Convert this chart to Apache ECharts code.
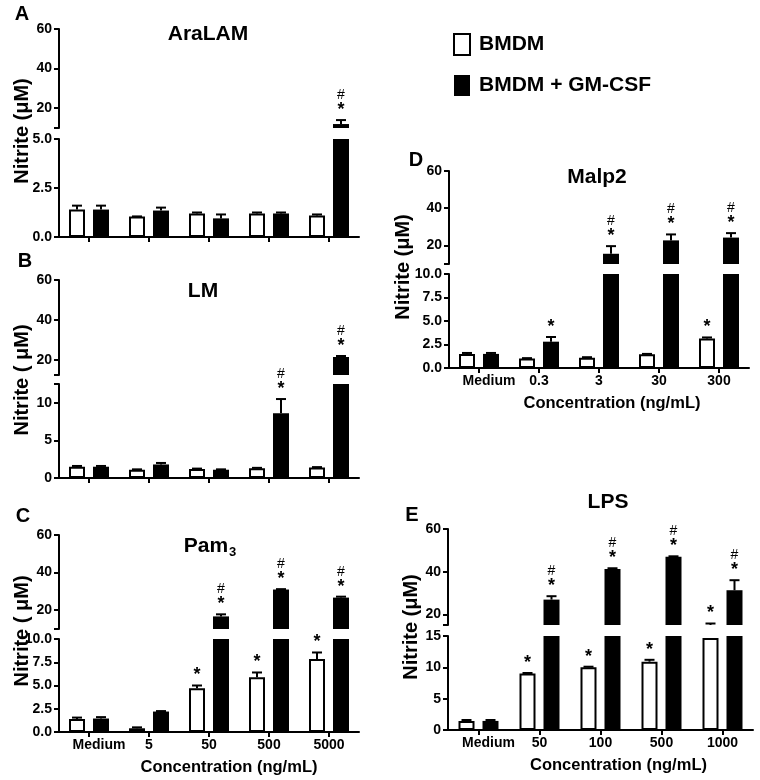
<!DOCTYPE html>
<html><head><meta charset="utf-8">
<script src="https://cdn.jsdelivr.net/npm/echarts@6/dist/echarts.min.js"></script>
<style>html,body{margin:0;padding:0;background:#fff}#c{width:760px;height:780px}</style>
</head><body><div id="c"></div>
<script>
// ---------- categories ----------
const catsABC = ['Medium', '5', '50', '500', '5000'];
const catsD = ['Medium', '0.3', '3', '30', '300'];
const catsE = ['Medium', '50', '100', '500', '1000'];
const seriesNames = ['BMDM', 'BMDM + GM-CSF'];

// ---------- Panel A: AraLAM ----------
const A_bmdm = [1.4, 1.05, 1.2, 1.2, 1.1];
const A_bmdm_err = [1.6, 1.05, 1.25, 1.25, 1.15];
const A_gm = [1.4, 1.35, 0.95, 1.2, 12];
const A_gm_err = [1.6, 1.5, 1.15, 1.25, 14];
const A_bmdm_ann = ['', '', '', '', ''];
const A_gm_ann = ['', '', '', '', '#*'];
const A_upperTicks = [10, 20, 40, 60], A_upperLabels = [20, 40, 60];
const A_lowerTicks = [0, 2.5, 5], A_lowerLabels = [0, 2.5, 5];

// ---------- Panel B: LM ----------
const B_bmdm = [1.5, 1.1, 1.2, 1.3, 1.4];
const B_bmdm_err = [1.6, 1.15, 1.25, 1.35, 1.45];
const B_gm = [1.5, 1.8, 1.1, 8.6, 21.5];
const B_gm_err = [1.6, 2.0, 1.15, 10.5, 22];
const B_bmdm_ann = ['', '', '', '', ''];
const B_gm_ann = ['', '', '', '#*', '#*'];
const B_upperTicks = [12.5, 20, 40, 60], B_upperLabels = [20, 40, 60];
const B_lowerTicks = [0, 5, 10, 12.5], B_lowerLabels = [0, 5, 10];

// ---------- Panel C: Pam3 ----------
const C_bmdm = [1.4, 0.4, 4.7, 5.9, 7.85];
const C_bmdm_err = [1.55, 0.5, 5.0, 6.4, 8.55];
const C_gm = [1.45, 2.2, 16.7, 31, 26.7];
const C_gm_err = [1.6, 2.25, 17.8, 31.2, 27.2];
const C_bmdm_ann = ['', '', '*', '*', '*'];
const C_gm_ann = ['', '', '#*', '#*', '#*'];
const C_upperTicks = [10, 20, 40, 60], C_upperLabels = [20, 40, 60];
const C_lowerTicks = [0, 2.5, 5, 7.5, 10], C_lowerLabels = [0, 2.5, 5, 7.5, 10];

// ---------- Panel D: Malp2 ----------
const D_bmdm = [1.5, 1.0, 1.1, 1.45, 3.15];
const D_bmdm_err = [1.6, 1.05, 1.15, 1.5, 3.25];
const D_gm = [1.5, 2.8, 15.5, 22.7, 24.2];
const D_gm_err = [1.6, 3.3, 19.6, 25.9, 26.6];
const D_bmdm_ann = ['', '', '', '', '*'];
const D_gm_ann = ['', '*', '#*', '#*', '#*'];
const D_upperTicks = [10, 20, 40, 60], D_upperLabels = [20, 40, 60];
const D_lowerTicks = [0, 2.5, 5, 7.5, 10], D_lowerLabels = [0, 2.5, 5, 7.5, 10];

// ---------- Panel E: LPS ----------
const E_bmdm = [1.45, 9.0, 10.0, 10.9, 14.7];
const E_bmdm_err = [1.6, 9.1, 10.1, 11.2, 15.7];
const E_gm = [1.45, 26.9, 41.2, 47.0, 31.3];
const E_gm_err = [1.6, 28.5, 41.6, 47.2, 36.0];
const E_bmdm_ann = ['', '*', '*', '*', '*'];
const E_gm_ann = ['', '#*', '#*', '#*', '#*'];
const E_upperTicks = [15, 20, 40, 60], E_upperLabels = [20, 40, 60];
const E_lowerTicks = [0, 5, 10, 15], E_lowerLabels = [0, 5, 10, 15];

// ---------- styling / layout ----------
const FONT = "'Liberation Sans', Arial, Helvetica, sans-serif";
const BAR_W = 16, BAR_GAP = 0.5;
const OFF = (BAR_W + BAR_W * BAR_GAP) / 2;
const CAP = 10;
const xTitle = 'Concentration (ng/mL)';

const panels = [
  { cats: catsABC, showX: false, xPad: 0, dec: 1,
    bm: A_bmdm, bmErr: A_bmdm_err, gm: A_gm, gmErr: A_gm_err, bmAnn: A_bmdm_ann, gmAnn: A_gm_ann,
    uT: A_upperTicks, uL: A_upperLabels, lT: A_lowerTicks, lL: A_lowerLabels,
    gU: { left: 59, top: 29, width: 300, height: 99 }, gL: { left: 59, top: 139, width: 300, height: 98 } },
  { cats: catsABC, showX: false, xPad: 0, dec: 0,
    bm: B_bmdm, bmErr: B_bmdm_err, gm: B_gm, gmErr: B_gm_err, bmAnn: B_bmdm_ann, gmAnn: B_gm_ann,
    uT: B_upperTicks, uL: B_upperLabels, lT: B_lowerTicks, lL: B_lowerLabels,
    gU: { left: 59, top: 280, width: 300, height: 95 }, gL: { left: 59, top: 384, width: 300, height: 94 } },
  { cats: catsABC, showX: true, xPad: 40, dec: 1,
    bm: C_bmdm, bmErr: C_bmdm_err, gm: C_gm, gmErr: C_gm_err, bmAnn: C_bmdm_ann, gmAnn: C_gm_ann,
    uT: C_upperTicks, uL: C_upperLabels, lT: C_lowerTicks, lL: C_lowerLabels,
    gU: { left: 59, top: 535, width: 300, height: 94 }, gL: { left: 59, top: 639, width: 300, height: 93 } },
  { cats: catsD, showX: true, xPad: 26, dec: 1,
    bm: D_bmdm, bmErr: D_bmdm_err, gm: D_gm, gmErr: D_gm_err, bmAnn: D_bmdm_ann, gmAnn: D_gm_ann,
    uT: D_upperTicks, uL: D_upperLabels, lT: D_lowerTicks, lL: D_lowerLabels,
    gU: { left: 449, top: 171, width: 300, height: 93 }, gL: { left: 449, top: 274, width: 300, height: 94 } },
  { cats: catsE, showX: true, xPad: 36, dec: 0,
    bm: E_bmdm, bmErr: E_bmdm_err, gm: E_gm, gmErr: E_gm_err, bmAnn: E_bmdm_ann, gmAnn: E_gm_ann,
    uT: E_upperTicks, uL: E_upperLabels, lT: E_lowerTicks, lL: E_lowerLabels,
    gU: { left: 448, top: 529, width: 305, height: 96 }, gL: { left: 448, top: 636, width: 305, height: 94 } }
];

const black = '#000';
const grids = [], xAxes = [], yAxes = [], series = [];

function yAxisOf(gi, ticks, labels, dec) {
  return {
    type: 'value', gridIndex: gi, min: ticks[0], max: ticks[ticks.length - 1],
    splitLine: { show: false },
    axisLine: { show: true, lineStyle: { color: black, width: 2 } },
    axisTick: { show: true, length: 5, lineStyle: { color: black, width: 2 }, customValues: ticks },
    axisLabel: { show: true, color: black, fontSize: 14, fontWeight: 'bold', fontFamily: FONT, margin: 7,
      customValues: labels, formatter: v => dec ? Number(v).toFixed(dec) : String(v) }
  };
}

function errSeries(gi, sign, means, errs, anns) {
  return {
    type: 'custom', name: 'err', xAxisIndex: gi, yAxisIndex: gi, silent: true, z: 5,
    encode: { x: 0, y: 1 },
    data: means.map((m, i) => [i, m, errs[i]]),
    renderItem: function (params, api) {
      const cs = params.coordSys;
      const top = cs.y, bot = cs.y + cs.height;
      const i = api.value(0);
      const m = api.value(1), e = api.value(2);
      const c = api.coord([i, m]);
      const x = c[0] + sign * OFF;
      const yE = api.coord([i, e])[1];
      if (yE > bot + 0.01 || yE < top - 0.5) return { type: 'group', children: [] };
      const y0 = Math.min(c[1], bot);
      const ch = [
        { type: 'line', shape: { x1: x, y1: y0, x2: x, y2: yE }, style: { stroke: black, lineWidth: 2 } },
        { type: 'line', shape: { x1: x - CAP / 2, y1: yE, x2: x + CAP / 2, y2: yE }, style: { stroke: black, lineWidth: 2 } }
      ];
      const a = anns[params.dataIndex];
      if (a && a.indexOf('*') >= 0) {
        ch.push({ type: 'text', x: x, y: yE - 14 + 4, style: { text: '*', fill: black, font: 'bold 18px ' + FONT,
          align: 'center', verticalAlign: 'middle', textAlign: 'center', textVerticalAlign: 'middle' } });
      }
      if (a && a.indexOf('#') >= 0) {
        ch.push({ type: 'text', x: x, y: yE - 25, style: { text: '#', fill: black, font: '14px ' + FONT,
          align: 'center', verticalAlign: 'middle', textAlign: 'center', textVerticalAlign: 'middle' } });
      }
      return { type: 'group', children: ch };
    }
  };
}

panels.forEach((p, k) => {
  const gu = 2 * k, gl = 2 * k + 1;
  grids.push(Object.assign({ containLabel: false }, p.gU));
  grids.push(Object.assign({ containLabel: false }, p.gL));
  xAxes.push({ type: 'category', gridIndex: gu, data: p.cats, show: false });
  xAxes.push({
    type: 'category', gridIndex: gl, data: p.cats,
    axisLine: { show: true, onZero: false, lineStyle: { color: black, width: 2 } },
    axisTick: { show: true, alignWithLabel: true, length: 5, lineStyle: { color: black, width: 2 } },
    axisLabel: { show: p.showX, color: black, fontSize: 14, fontWeight: 'bold', fontFamily: FONT, margin: 6, interval: 0,
      formatter: v => v === 'Medium' ? '{m|Medium}' : v,
      rich: { m: { fontSize: 14, fontWeight: 'bold', fontFamily: FONT, color: black, padding: [0, 0, 0, 20] } } },
    name: p.showX ? xTitle : '', nameLocation: 'middle', nameGap: 27,
    nameTextStyle: { color: black, fontSize: 16.5, fontWeight: 'bold', fontFamily: FONT, padding: [0, 0, 0, p.xPad] }
  });
  yAxes.push(yAxisOf(gu, p.uT, p.uL, 0));
  yAxes.push(yAxisOf(gl, p.lT, p.lL, p.dec));
  const uMin = p.uT[0];
  // upper bars
  series.push({ type: 'bar', name: seriesNames[0], xAxisIndex: gu, yAxisIndex: gu, barWidth: BAR_W, barGap: '50%', clip: true,
    data: p.bm.map(v => v > uMin ? v : '-'), itemStyle: { color: '#fff', borderColor: black, borderWidth: 2 } });
  series.push({ type: 'bar', name: seriesNames[1], xAxisIndex: gu, yAxisIndex: gu, barWidth: BAR_W, barGap: '50%', clip: true,
    data: p.gm.map(v => v > uMin ? v : '-'), itemStyle: { color: black, borderColor: black, borderWidth: 0 } });
  // lower bars
  series.push({ type: 'bar', name: seriesNames[0], xAxisIndex: gl, yAxisIndex: gl, barWidth: BAR_W, barGap: '50%', clip: true,
    data: p.bm.slice(), itemStyle: { color: '#fff', borderColor: black, borderWidth: 2 } });
  series.push({ type: 'bar', name: seriesNames[1], xAxisIndex: gl, yAxisIndex: gl, barWidth: BAR_W, barGap: '50%', clip: true,
    data: p.gm.slice(), itemStyle: { color: black, borderColor: black, borderWidth: 0 } });
  // error bars + significance marks
  series.push(errSeries(gu, -1, p.bm, p.bmErr, p.bmAnn));
  series.push(errSeries(gu, 1, p.gm, p.gmErr, p.gmAnn));
  series.push(errSeries(gl, -1, p.bm, p.bmErr, p.bmAnn));
  series.push(errSeries(gl, 1, p.gm, p.gmErr, p.gmAnn));
});

function txt(x, y, text, size, rot, extra) {
  return Object.assign({ type: 'text', x: x, y: y, rotation: rot || 0, silent: true, z: 10,
    style: Object.assign({ text: text, fill: black, font: 'bold ' + size + 'px ' + FONT,
      align: 'center', verticalAlign: 'middle', textAlign: 'center', textVerticalAlign: 'middle' }, extra || {}) });
}
const R = Math.PI / 2;
const graphic = [
  txt(22, 14, 'A', 20), txt(25, 261, 'B', 20), txt(23, 516, 'C', 20), txt(416, 160, 'D', 20), txt(412, 515, 'E', 20),
  txt(208, 34, 'AraLAM', 21), txt(203, 291, 'LM', 21), txt(597, 177, 'Malp2', 21), txt(608, 502, 'LPS', 21),
  txt(210, 546, '{a|Pam}{b|3}', 21, 0, { rich: {
    a: { font: 'bold 21px ' + FONT, fill: black },
    b: { font: 'bold 13px ' + FONT, fill: black, padding: [12, 0, 0, 1] } } }),
  txt(22, 131, 'Nitrite (μM)', 20, R), txt(22, 380, 'Nitrite ( μM)', 20, R), txt(22, 631, 'Nitrite ( μM)', 20, R),
  txt(403, 267, 'Nitrite (μM)', 20, R), txt(411, 627, 'Nitrite (μM)', 20, R)
];

const chart = echarts.init(document.getElementById('c'));
chart.setOption({
  animation: false,
  backgroundColor: '#fff',
  legend: { data: seriesNames, orient: 'vertical', left: 453, top: 33, padding: 0, itemWidth: 16, itemHeight: 21, itemGap: 19,
    icon: 'rect', selectedMode: false,
    textStyle: { fontSize: 21, fontWeight: 'bold', fontFamily: FONT, color: black, padding: [0, 0, 0, 4] } },
  grid: grids, xAxis: xAxes, yAxis: yAxes, series: series, graphic: graphic
});
</script></body></html>
